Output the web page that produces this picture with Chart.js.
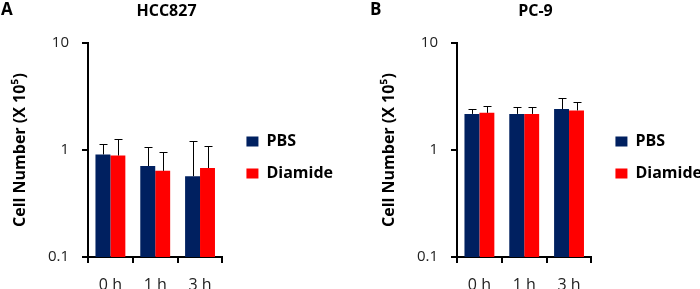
<!DOCTYPE html>
<html>
<head>
<meta charset="utf-8">
<script src="https://cdn.jsdelivr.net/npm/chart.js@4.4.0/dist/chart.umd.min.js"></script>
<style>
  html, body { margin: 0; padding: 0; background: #fff; }
  body { width: 700px; height: 289px; overflow: hidden; position: relative; }
  .panel { position: absolute; top: 0; width: 353px; height: 289px; }
</style>
</head>
<body>
<div class="panel" style="left:-10px"><canvas id="chartA" width="353" height="289"></canvas></div>
<div class="panel" style="left:359px"><canvas id="chartB" width="353" height="289"></canvas></div>
<script>
const timePoints = ['0 h', '1 h', '3 h'];
const seriesNames = ['PBS', 'Diamide'];
const yTicks = [0.1, 1, 10];
const yTickLabels = ['0.1', '1', '10'];

// panel A - HCC827 (mean and upper SD)
const hccPbs = [0.91, 0.71, 0.57];
const hccPbsErr = [0.22, 0.35, 0.65];
const hccDiamide = [0.89, 0.64, 0.68];
const hccDiamideErr = [0.38, 0.32, 0.42];

// panel B - PC-9
const pc9Pbs = [2.18, 2.18, 2.42];
const pc9PbsErr = [0.22, 0.34, 0.62];
const pc9Diamide = [2.23, 2.18, 2.35];
const pc9DiamideErr = [0.36, 0.34, 0.44];

const colors = ['#002060', '#ff0000'];

Chart.defaults.font.family = '"Open Sans", "Liberation Sans", sans-serif';

// only the upper half of the error bar is shown
const errorBars = {
    id: 'errorBars',
    afterDatasetsDraw(chart) {
        const ctx = chart.ctx;
        const yScale = chart.scales.y;
        ctx.save();
        ctx.strokeStyle = '#000';
        ctx.lineWidth = 1;
        chart.data.datasets.forEach((ds, i) => {
            chart.getDatasetMeta(i).data.forEach((bar, j) => {
                const top = yScale.getPixelForValue(ds.data[j] + ds.errors[j]);
                const x = Math.round(bar.x) + 0.5;
                ctx.beginPath();
                ctx.moveTo(x, bar.y);
                ctx.lineTo(x, Math.round(top) + 0.5);
                ctx.moveTo(x - 4, Math.round(top) + 0.5);
                ctx.lineTo(x + 4, Math.round(top) + 0.5);
                ctx.stroke();
            });
        });
        ctx.restore();
    }
};

const panelLetter = {
    id: 'panelLetter',
    afterDraw(chart, args, opts) {
        const ctx = chart.ctx;
        ctx.save();
        ctx.font = 'bold 17px "Open Sans"';
        ctx.fillStyle = '#000';
        ctx.textBaseline = 'alphabetic';
        ctx.fillText(opts.text, 11, 15);
        ctx.restore();
    }
};

function makeChart(id, letter, title, pbs, pbsErr, dia, diaErr) {
    const ctx = document.getElementById(id).getContext('2d');
    return new Chart(ctx, {
        type: 'bar',
        data: {
            labels: timePoints,
            datasets: [{
                label: seriesNames[0],
                data: pbs,
                errors: pbsErr,
                backgroundColor: colors[0],
                borderWidth: 0,
                barPercentage: 1,
                categoryPercentage: 0.667,
                xAxisID: 'x',
                yAxisID: 'y'
            }, {
                label: seriesNames[1],
                data: dia,
                errors: diaErr,
                backgroundColor: colors[1],
                borderWidth: 0,
                barPercentage: 1,
                categoryPercentage: 0.667,
                xAxisID: 'x',
                yAxisID: 'y'
            }]
        },
        options: {
            responsive: false,
            animation: false,
            layout: { padding: 0 },
            scales: {
                x: {
                    type: 'category',
                    offset: true,
                    grid: { display: true, drawOnChartArea: false, tickLength: 6, color: '#000', lineWidth: 2, offset: true },
                    border: { display: true, color: '#000', width: 2 },
                    ticks: { color: '#222', padding: 13, font: { size: 16 } },
                    afterFit(s) { s.height = 32; }
                },
                y: {
                    type: 'logarithmic',
                    position: 'left',
                    min: 0.1,
                    max: 10,
                    afterBuildTicks(s) { s.ticks = yTicks.map(v => ({ value: v })); },
                    grid: { display: true, drawOnChartArea: false, tickLength: 6, color: '#000', lineWidth: 2 },
                    border: { display: true, color: '#000', width: 2 },
                    ticks: {
                        color: '#222',
                        padding: 13,
                        autoSkip: false,
                        font: { size: 15 },
                        callback: (v) => yTickLabels[yTicks.indexOf(v)]
                    },
                    title: {
                        display: true,
                        text: 'Cell Number (X 10\u2075)',
                        color: '#000',
                        font: { size: 16, weight: 'bold' },
                        padding: { top: 21, bottom: 0 }
                    },
                    afterFit(s) { s.width = 98; }
                },
                // spacer between plot and legend
                gap: {
                    position: 'right',
                    grid: { display: false },
                    border: { display: false },
                    ticks: { display: false },
                    afterFit(s) { s.width = 8; }
                }
            },
            plugins: {
                title: {
                    display: true,
                    text: title,
                    color: '#000',
                    font: { size: 16, weight: 'bold' },
                    padding: { top: 2, bottom: 22 }
                },
                legend: {
                    position: 'right',
                    align: 'center',
                    maxWidth: 200,
                    title: { display: true, text: ' ', font: { size: 10 }, padding: 7 },
                    labels: {
                        boxWidth: 12,
                        boxHeight: 10,
                        padding: 16,
                        color: '#000',
                        font: { size: 16, weight: 'bold' }
                    }
                },
                tooltip: { enabled: false },
                panelLetter: { text: letter }
            }
        },
        plugins: [errorBars, panelLetter]
    });
}

makeChart('chartA', 'A', 'HCC827', hccPbs, hccPbsErr, hccDiamide, hccDiamideErr);
makeChart('chartB', 'B', 'PC-9', pc9Pbs, pc9PbsErr, pc9Diamide, pc9DiamideErr);
</script>
</body>
</html>
